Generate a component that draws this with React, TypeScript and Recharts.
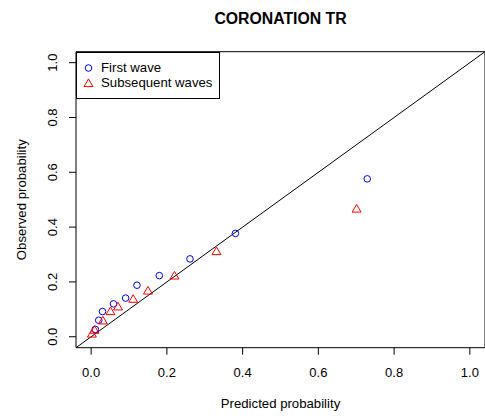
import { ScatterChart, Scatter, XAxis, YAxis, ReferenceLine, ReferenceArea, Legend } from "recharts";

const firstWaveX = [0.011, 0.02, 0.03, 0.059, 0.091, 0.121, 0.18, 0.261, 0.381, 0.729];
const firstWaveY = [0.027, 0.06, 0.092, 0.12, 0.141, 0.188, 0.223, 0.284, 0.377, 0.576];
const laterWavesX = [0.002, 0.009, 0.031, 0.051, 0.071, 0.111, 0.15, 0.22, 0.331, 0.701];
const laterWavesY = [0.008, 0.022, 0.056, 0.09, 0.107, 0.135, 0.165, 0.22, 0.309, 0.464];
const axisTicks = [0, 0.2, 0.4, 0.6, 0.8, 1];
const seriesNames = ["First wave", "Subsequent waves"];
const lo = -0.04;
const hi = 1.04;

const font = "'Liberation Sans', Arial, sans-serif";

const firstWave = firstWaveX.map((x, i) => ({ x, y: firstWaveY[i] }));
const laterWaves = laterWavesX.map((x, i) => ({ x, y: laterWavesY[i] }));

function CircleMark(props: any) {
    return <circle cx={props.cx} cy={props.cy} r={3.3} fill="none" stroke="#0000ff" strokeWidth={1} />;
}

function TriangleMark(props: any) {
    const { cx, cy } = props;
    const r = 5.1;
    const w = 4.45;
    return (
        <polygon
            points={`${cx},${cy - r} ${cx + w},${cy + r / 2} ${cx - w},${cy + r / 2}`}
            fill="none"
            stroke="#ff0000"
            strokeWidth={1}
        />
    );
}

function YTick(props: any) {
    const { x, y, payload } = props;
    return (
        <text
            transform={`translate(${x},${y}) rotate(-90)`}
            textAnchor="middle"
            dy="0.36em"
            fontSize={13}
            fontFamily={font}
            fill="#000"
        >
            {Number(payload.value).toFixed(1)}
        </text>
    );
}

function LegendBox() {
    return (
        <div
            style={{
                width: 144,
                height: 47,
                border: "1px solid #000",
                boxSizing: "border-box",
                background: "#fff",
                fontFamily: font,
                fontSize: 13.2,
                position: "relative",
            }}
        >
            {seriesNames.map((name, i) => (
                <div key={name} style={{ position: "absolute", left: 0, top: 7 + i * 15.4, height: 15, lineHeight: "15px", whiteSpace: "nowrap" }}>
                    <svg width={24} height={15} style={{ position: "absolute", left: 0, top: 0 }}>
                        {i === 0 ? <CircleMark cx={11.5} cy={8} /> : <TriangleMark cx={11.5} cy={9} />}
                    </svg>
                    <span style={{ position: "absolute", left: 24 }}>{name}</span>
                </div>
            ))}
        </div>
    );
}

export default function App() {
    return (
        <div style={{ position: "absolute", left: 0, top: 0, width: 485, height: 416, background: "#fff" }}>
            <div
                style={{
                    position: "absolute",
                    left: 76,
                    width: 409,
                    top: 10.5,
                    textAlign: "center",
                    fontFamily: font,
                    fontWeight: "bold",
                    fontSize: 15.8,
                    lineHeight: "15.8px",
                }}
            >
                CORONATION TR
            </div>
            <ScatterChart width={485} height={416} margin={{ top: 51.7, right: 0, bottom: 0, left: 0 }}>
                <XAxis
                    type="number"
                    dataKey="x"
                    domain={[lo, hi]}
                    allowDataOverflow
                    ticks={axisTicks}
                    tickFormatter={(v: number) => v.toFixed(1)}
                    height={68.3}
                    axisLine={false}
                    tickSize={7}
                    tickMargin={13}
                    tickLine={{ stroke: "#000" }}
                    tick={{ fontSize: 13, fontFamily: font, fill: "#000" }}
                    label={{
                        content: (p: any) => (
                            <text
                                x={p.viewBox.x + p.viewBox.width / 2}
                                y={p.viewBox.y + 60.5}
                                textAnchor="middle"
                                fontSize={13.2}
                                fontFamily={font}
                                fill="#000"
                            >
                                Predicted probability
                            </text>
                        ),
                    }}
                />
                <YAxis
                    type="number"
                    dataKey="y"
                    domain={[lo, hi]}
                    allowDataOverflow
                    ticks={axisTicks}
                    width={76}
                    axisLine={false}
                    tickSize={7}
                    tickMargin={16.5}
                    tickLine={{ stroke: "#000" }}
                    tick={<YTick />}
                    label={{
                        content: (p: any) => {
                            const cx = p.viewBox.x + 21;
                            const cy = p.viewBox.y + p.viewBox.height / 2;
                            return (
                                <text
                                    transform={`translate(${cx},${cy}) rotate(-90)`}
                                    textAnchor="middle"
                                    dy="0.36em"
                                    fontSize={13.2}
                                    fontFamily={font}
                                    fill="#000"
                                >
                                    Observed probability
                                </text>
                            );
                        },
                    }}
                />
                <ReferenceArea x1={lo} x2={hi} y1={lo} y2={hi} fill="none" stroke="#000" strokeWidth={1} />
                <ReferenceLine
                    segment={[
                        { x: lo, y: lo },
                        { x: hi, y: hi },
                    ]}
                    stroke="#000"
                    strokeWidth={1}
                />
                <Scatter name={seriesNames[0]} data={firstWave} shape={<CircleMark />} isAnimationActive={false} />
                <Scatter name={seriesNames[1]} data={laterWaves} shape={<TriangleMark />} isAnimationActive={false} />
                <Legend
                    layout="vertical"
                    align="center"
                    verticalAlign="middle"
                    content={() => <LegendBox />}
                    wrapperStyle={{ position: "absolute", left: 76, top: 51.7, width: 144, height: 47 }}
                />
            </ScatterChart>
        </div>
    );
}
